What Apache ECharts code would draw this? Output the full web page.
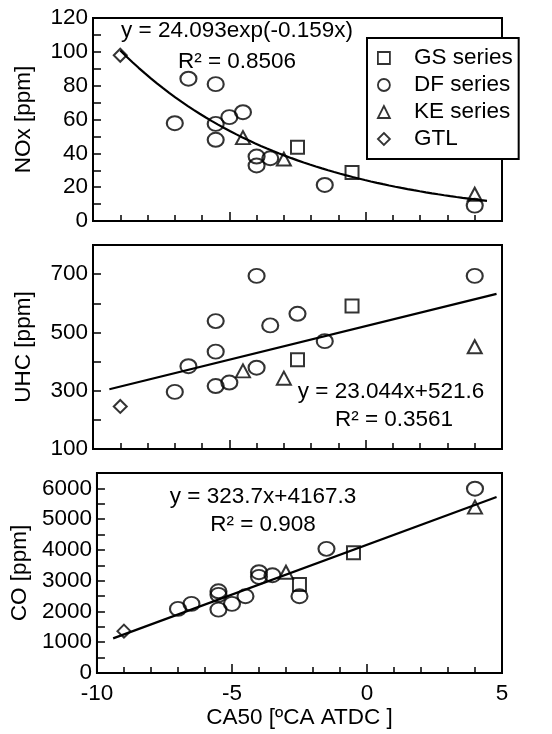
<!DOCTYPE html>
<html><head><meta charset="utf-8">
<script src="https://cdn.jsdelivr.net/npm/echarts@6/dist/echarts.min.js"></script>
<style>html,body{margin:0;padding:0;background:#fff}#c{width:552px;height:734px}</style>
</head><body><div id="c"></div>
<script>
// ---------- data ----------
const seriesNames = ['GS series', 'DF series', 'KE series', 'GTL'];

const gsCA50 = [-2.5, -0.5];
const gsNOx  = [43.6, 28.6];
const gsUHC  = [406, 591];
const gsCO   = [2875, 3906];

const dfCA50 = [-7, -6.5, -5.5, -5.5, -5.5, -5, -4.5, -4, -4, -3.5, -2.5, -1.5, 4];
const dfNOx  = [57.8, 84.1, 80.9, 57.4, 48.0, 61.4, 64.3, 38.1, 32.8, 37.1, null, 21.3, 9.1];
const dfUHC  = [296, 384, 539, 434, 316, 328, null, 694, 379, 524, 564, 470, 694];
const dfCO   = [2083, 2246, 2656, 2540, 2060, 2246, 2494, 3275, 3125, 3177, 2494, 4036, 5989];

const keCA50 = [-4.5, -3, 4];
const keNOx  = [49.3, 36.6, 15.8];
const keUHC  = [368, 343, 451];
const keCO   = [null, 3276, 5392];

const gtlCA50 = [-9];
const gtlNOx  = [98];
const gtlUHC  = [246];
const gtlCO   = [1360];

// fitted trend lines (coefficients as printed on the chart) and their drawn x-range
const noxFit = [24.093, -0.159];   // y = a*exp(b*x)
const uhcFit = [23.044, 521.6];    // y = a*x + b
const coFit  = [323.7, 4167.3];    // y = a*x + b
const noxFitRange = [-9, 4.45];
const linFitRange = [-9.4, 4.8];

const fitTexts = [
  ['y = 24.093exp(-0.159x)', 'R\u00b2 = 0.8506'],
  ['y = 23.044x+521.6', 'R\u00b2 = 0.3561'],
  ['y = 323.7x+4167.3', 'R\u00b2 = 0.908']
];

const xTickLabels = [-10, -5, 0, 5];
const noxTickLabels = [0, 20, 40, 60, 80, 100, 120];
const uhcTickLabels = [100, 300, 500, 700];
const coTickLabels = [0, 1000, 2000, 3000, 4000, 5000, 6000];
const yNames = ['NOx [ppm]', 'UHC [ppm]', 'CO [ppm]'];
const xName = 'CA50 [\u00baCA ATDC ]';

// ---------- build ----------
const FONT = '"Liberation Sans", Arial, sans-serif';
const FS = 22.5;

function pairs(xs, ys) {
  const out = [];
  xs.forEach((x, i) => { if (ys[i] !== null && ys[i] !== undefined) out.push([x, ys[i]]); });
  return out;
}
function expLine(c, r) {
  const pts = [];
  const n = 60;
  for (let i = 0; i <= n; i++) {
    const x = r[0] + (r[1] - r[0]) * i / n;
    pts.push([x, c[0] * Math.exp(c[1] * x)]);
  }
  return pts;
}
function linLine(c, r) {
  return [[r[0], c[0] * r[0] + c[1]], [r[1], c[0] * r[1] + c[1]]];
}

const grids = [
  { left: 93, width: 409, top: 18, height: 203 },
  { left: 93, width: 409, top: 245, height: 204 },
  { left: 93, width: 409, top: 473, height: 200 }
].map(g => Object.assign(g, { show: true, borderColor: '#000', borderWidth: 2, backgroundColor: 'transparent' }));

const axisLineStyle = { color: '#000', width: 2 };

const xAxes = [0, 1, 2].map(i => ({
  type: 'value', gridIndex: i, min: -10, max: 5, interval: 5,
  axisLine: { show: true, onZero: false, lineStyle: axisLineStyle },
  axisTick: { show: true, inside: true, length: 9, lineStyle: { color: '#000', width: 1.5 } },
  minorTick: { show: true, splitNumber: 5, length: 6, lineStyle: { color: '#000', width: 1.5 } },
  splitLine: { show: false }, minorSplitLine: { show: false },
  axisLabel: {
    show: i === 2, color: '#000', fontSize: FS, fontFamily: FONT, margin: 9,
    formatter: v => xTickLabels.includes(v) ? String(v) : ''
  },
  name: i === 2 ? xName : '', nameLocation: 'middle', nameGap: 31,
  nameTextStyle: { color: '#000', fontSize: FS, fontFamily: FONT }
}));

const yCfg = [
  { min: 0, max: 120, interval: 10, labels: noxTickLabels },
  { min: 100, max: 800, interval: 100, labels: uhcTickLabels },
  { min: 0, max: 6500, interval: 500, labels: coTickLabels }
];
const yAxes = yCfg.map((c, i) => ({
  type: 'value', gridIndex: i, min: c.min, max: c.max, interval: c.interval,
  axisLine: { show: true, onZero: false, lineStyle: axisLineStyle },
  axisTick: { show: true, inside: true, length: 8, lineStyle: { color: '#000', width: 1.5 } },
  splitLine: { show: false },
  axisLabel: {
    color: '#000', fontSize: FS, fontFamily: FONT, margin: 5,
    formatter: v => c.labels.includes(v) ? String(v) : ''
  },
  name: yNames[i], nameLocation: 'middle', nameGap: 58, nameRotate: 90,
  nameTextStyle: { color: '#000', fontSize: FS, fontFamily: FONT }
}));

const markerStyle = { color: 'rgba(0,0,0,0)', borderColor: '#000', borderWidth: 2 };
const symbolDefs = {
  'GS series': { symbol: 'rect', size: [13, 13] },
  'DF series': { symbol: 'circle', size: [16, 14] },
  'KE series': { symbol: 'triangle', size: [14, 13] },
  'GTL': { symbol: 'diamond', size: [13, 13] }
};
const panelData = [
  { 'GS series': pairs(gsCA50, gsNOx), 'DF series': pairs(dfCA50, dfNOx), 'KE series': pairs(keCA50, keNOx), 'GTL': pairs(gtlCA50, gtlNOx) },
  { 'GS series': pairs(gsCA50, gsUHC), 'DF series': pairs(dfCA50, dfUHC), 'KE series': pairs(keCA50, keUHC), 'GTL': pairs(gtlCA50, gtlUHC) },
  { 'GS series': pairs(gsCA50, gsCO), 'DF series': pairs(dfCA50, dfCO), 'KE series': pairs(keCA50, keCO), 'GTL': pairs(gtlCA50, gtlCO) }
];
const fitLines = [expLine(noxFit, noxFitRange), linLine(uhcFit, linFitRange), linLine(coFit, linFitRange)];

const series = [];
[0, 1, 2].forEach(i => {
  series.push({
    type: 'line', name: 'fit' + i, xAxisIndex: i, yAxisIndex: i, data: fitLines[i],
    showSymbol: false, smooth: false, silent: true, z: 1,
    lineStyle: { color: '#000', width: 2.2 }
  });
  seriesNames.forEach(n => {
    series.push({
      type: 'scatter', name: n, xAxisIndex: i, yAxisIndex: i, data: panelData[i][n],
      symbol: symbolDefs[n].symbol, symbolSize: symbolDefs[n].size,
      itemStyle: markerStyle, z: 3
    });
  });
});

const textPos = [[[237, 31], [237, 62]], [[391, 392], [394, 420]], [[263, 497], [263, 525]]];
const graphic = [];
fitTexts.forEach((pair, i) => {
  pair.forEach((t, j) => {
    graphic.push({
      type: 'text', x: textPos[i][j][0], y: textPos[i][j][1], z: 10,
      style: { text: t, fill: '#000', font: FS + 'px ' + FONT, align: 'center', verticalAlign: 'middle' }
    });
  });
});

const chart = echarts.init(document.getElementById('c'), null, { renderer: 'canvas' });
chart.setOption({
  animation: false,
  backgroundColor: '#fff',
  grid: grids,
  xAxis: xAxes,
  yAxis: yAxes,
  legend: {
    data: seriesNames, orient: 'vertical', left: 367, top: 38,
    backgroundColor: '#fff', borderColor: '#000', borderWidth: 2,
    padding: [8, 6, 8, 10], itemGap: 3, itemWidth: 12, itemHeight: 12,
    symbolKeepAspect: true,
    itemStyle: { color: 'rgba(0,0,0,0)', borderColor: '#000', borderWidth: 1.8 },
    textStyle: { color: '#000', fontSize: FS, fontFamily: FONT, lineHeight: 24, padding: [0, 0, 0, 19] },
    selectedMode: false, z: 20
  },
  graphic: graphic,
  series: series
});
</script>
</body></html>
